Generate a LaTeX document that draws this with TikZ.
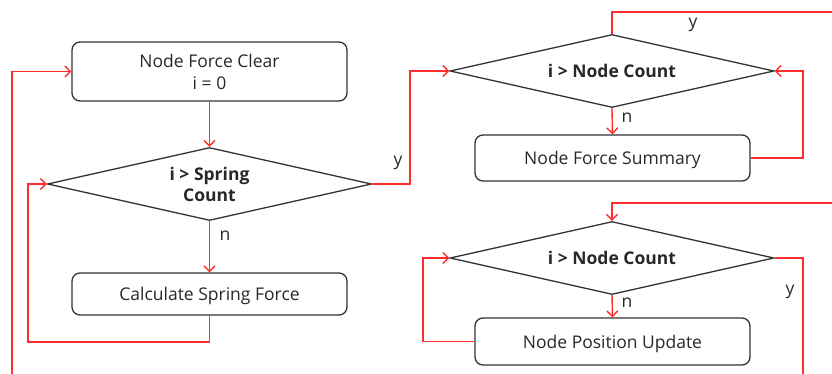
\documentclass[tikz,border=0pt]{standalone}
\usepackage{fontspec}
\setmainfont{Open Sans}
\usetikzlibrary{arrows.meta,shapes.geometric}
\definecolor{flow}{RGB}{255,45,45}
\definecolor{edge}{RGB}{50,50,50}
\definecolor{ink}{RGB}{40,40,40}
\tikzset{
  procbox/.style={draw=edge, line width=1.3pt, rounded corners=8pt, minimum width=275pt,
    align=center, text=ink, font=\fontsize{17.5}{22}\selectfont, inner sep=0pt},
  oneline/.style={text depth=0pt},
  decision/.style={draw=edge, line width=1.3pt, diamond, aspect=4.5, inner sep=0pt,
    minimum width=324pt, minimum height=73pt, align=center, text=ink,
    font=\fontsize{17.5}{21}\selectfont\bfseries},
  link/.style={draw=flow, line width=1.4pt},
  arr/.style={link, -{Straight Barb[length=5.5pt,width=11pt,line width=1.4pt]}},
  tag/.style={text=ink, font=\fontsize{17.5}{21}\selectfont, inner sep=0pt}
}
\begin{document}
\begin{tikzpicture}[x=1pt, y=-1pt]
\useasboundingbox (0,0) rectangle (832,374);

% left column
\node[procbox, minimum height=59pt] (clear) at (209.5,71.5) {Node Force Clear\\i = 0};
\node[decision] (spring) at (209.5,184) {i > Spring\\Count};
\node[procbox, oneline, minimum height=42pt] (calc) at (209.5,294) {Calculate Spring Force};

% right column, upper loop
\node[decision] (cnt1) at (612,71) {i > Node Count};
\node[procbox, oneline, minimum height=46pt] (sum) at (612.5,158) {Node Force Summary};

% right column, lower loop
\node[decision] (cnt2) at (612,258) {i > Node Count};
\node[procbox, oneline, minimum height=47pt] (upd) at (612.5,341.5) {Node Position Update};

% free ends and bends
\coordinate (outerin) at (12,374);
\coordinate (springback) at (28,342);
\coordinate (toright) at (410,71);
\coordinate (topout) at (832,12);
\coordinate (sumback) at (803,71);
\coordinate (lowin) at (832,203);
\coordinate (lowout) at (803,374);
\coordinate (updback) at (423,258);

% connectors
\draw[arr] (clear.south) -- (spring.north);
\draw[arr] (spring.south) -- (calc.north);
\draw[arr] (calc.south) |- (springback) |- (spring.west);
\draw[arr] (outerin) |- (clear.west);
\draw[arr] (spring.east) -| (toright) -- (cnt1.west);
\draw[link] (cnt1.north) |- (topout);
\draw[arr] (cnt1.south) -- (sum.north);
\draw[arr] (sum.east) -| (sumback) -- (cnt1.east);
\draw[arr] (lowin) -| (cnt2.north);
\draw[link] (cnt2.east) -| (lowout);
\draw[arr] (cnt2.south) -- (upd.north);
\draw[arr] (upd.west) -| (updback) -- (cnt2.west);

% branch labels
\node[tag] (n1) at (225,236) {n};
\node[tag] (y1) at (398,163) {y};
\node[tag] (y2) at (693,25) {y};
\node[tag] (n2) at (627,118) {n};
\node[tag] (y3) at (790,292) {y};
\node[tag] (n3) at (627,303) {n};
\end{tikzpicture}
\end{document}
